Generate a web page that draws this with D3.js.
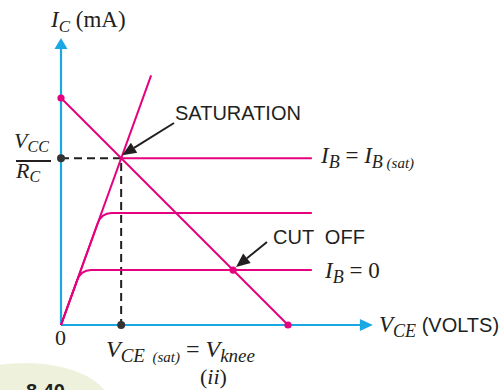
<!DOCTYPE html>
<html>
<head>
<meta charset="utf-8">
<script src="https://cdn.jsdelivr.net/npm/d3@7"></script>
<style>
body{margin:0;background:#fff}
svg{display:block}
.serif{font-family:"Liberation Serif","Times New Roman",serif}
.sans{font-family:"Liberation Sans",Arial,sans-serif}
</style>
</head>
<body>
<div id="chart"></div>
<script>
// values in chart units (VCE in volts, IC in mA), VCC = 10, VCC/RC = 10
const loadLine = [[0, 10], [10, 0]];
const satLine = [[0, 0], [3.97, 11]];
const satPoint = [2.65, 7.35];
const ibLevels = [2.42, 4.93];      // lower curves: IB = 0, middle
const curveEnd = 11.05;
const cutOff = [7.58, 2.42];
const axisEnd = {x: 13.74, y: 12.64};

const opt = {width: 500, height: 390}
const magenta = "#e5007d", blue = "#1aa8e4", ink = "#231f20";

const x = d3.scaleLinear().domain([0, 10]).range([61, 288]);
const y = d3.scaleLinear().domain([0, 10]).range([325, 98]);

const svg = d3.select("#chart").append("svg")
  .attr("width", opt.width)
  .attr("height", opt.height);

// figure-number blob bottom left
svg.append("ellipse")
  .attr("cx", 25).attr("cy", 405).attr("rx", 85).attr("ry", 42)
  .attr("fill", "#eef2dc");
svg.append("text").attr("class", "sans")
  .attr("x", 26).attr("y", 398)
  .attr("font-size", 20).attr("font-weight", "bold").attr("fill", ink)
  .text("8.40");

// axes
svg.append("line")
  .attr("x1", x(0)).attr("y1", y(0)).attr("x2", x(axisEnd.x) - 8).attr("y2", y(0))
  .attr("stroke", blue).attr("stroke-width", 2.2);
svg.append("line")
  .attr("x1", x(0)).attr("y1", y(0)).attr("x2", x(0)).attr("y2", y(axisEnd.y) + 8)
  .attr("stroke", blue).attr("stroke-width", 2.2);
svg.append("path")
  .attr("d", () => {
    const tx = x(axisEnd.x), ty = y(0);
    return `M${tx},${ty}L${tx - 13},${ty - 6}L${tx - 13},${ty + 6}Z`;
  })
  .attr("fill", blue);
svg.append("path")
  .attr("d", () => {
    const tx = x(0), ty = y(axisEnd.y);
    return `M${tx},${ty}L${tx - 6.5},${ty + 11}L${tx + 6.5},${ty + 11}Z`;
  })
  .attr("fill", blue);

// dashed guides to the saturation point
svg.append("path")
  .attr("d", `M${x(0)},${y(satPoint[1])}H${x(satPoint[0])}V${y(0)}`)
  .attr("fill", "none").attr("stroke", ink).attr("stroke-width", 2)
  .attr("stroke-dasharray", "8,5");

const line = d3.line().x(d => x(d[0])).y(d => y(d[1]));

// saturation line
svg.append("path").datum(satLine)
  .attr("d", line)
  .attr("fill", "none").attr("stroke", magenta).attr("stroke-width", 2);

// IB(sat) horizontal
svg.append("path").datum([satPoint, [curveEnd, satPoint[1]]])
  .attr("d", line)
  .attr("fill", "none").attr("stroke", magenta).attr("stroke-width", 2);

// lower curves: rise along the saturation line, round the knee, go flat
const slope = satLine[1][1] / satLine[1][0];
svg.selectAll("path.ib")
  .data(ibLevels)
  .enter()
  .append("path")
  .attr("class", "ib")
  .attr("d", (lv) => {
    const vk = lv / slope;
    const p = d3.path();
    p.moveTo(x(0), y(0));
    p.lineTo(x(vk - 0.17), y(lv - 0.47));
    p.quadraticCurveTo(x(vk), y(lv), x(vk + 0.45), y(lv));
    p.lineTo(x(curveEnd), y(lv));
    return p.toString();
  })
  .attr("fill", "none").attr("stroke", magenta).attr("stroke-width", 2);

// load line
svg.append("path").datum(loadLine)
  .attr("d", line)
  .attr("fill", "none").attr("stroke", magenta).attr("stroke-width", 2);

svg.selectAll("circle.end")
  .data(loadLine.concat([cutOff]))
  .enter()
  .append("circle")
  .attr("class", "end")
  .attr("cx", d => x(d[0])).attr("cy", d => y(d[1]))
  .attr("r", 3.6).attr("fill", magenta);

svg.selectAll("circle.guide")
  .data([[0, satPoint[1]], [satPoint[0], 0]])
  .enter()
  .append("circle")
  .attr("class", "guide")
  .attr("cx", d => x(d[0])).attr("cy", d => y(d[1]))
  .attr("r", 4).attr("fill", "#333");

// pointer arrows
function pointer(x1, y1, x2, y2) {
  const a = Math.atan2(y2 - y1, x2 - x1), L = 14, W = 6;
  const bx = x2 - L * Math.cos(a), by = y2 - L * Math.sin(a);
  svg.append("line").attr("x1", x1).attr("y1", y1).attr("x2", bx).attr("y2", by)
    .attr("stroke", ink).attr("stroke-width", 2);
  svg.append("path")
    .attr("d", `M${x2},${y2}L${bx + W * Math.sin(a)},${by - W * Math.cos(a)}L${bx - W * Math.sin(a)},${by + W * Math.cos(a)}Z`)
    .attr("fill", ink);
}
pointer(174, 123, x(satPoint[0]) + 1, y(satPoint[1]) - 3);
pointer(267, 242, x(cutOff[0]) + 3, y(cutOff[1]) - 3);

// labels
function label(cls, px, py, parts, size) {
  const t = svg.append("text").attr("class", cls)
    .attr("x", px).attr("y", py).attr("font-size", size).attr("fill", ink)
    .attr("xml:space", "preserve").style("white-space", "pre");
  parts.forEach(p => {
    const s = t.append("tspan").text(p.t);
    if (p.i) s.attr("font-style", "italic");
    if (p.s) s.attr("font-size", p.s);
    if (p.dy) s.attr("dy", p.dy);
    if (p.f) s.attr("class", p.f);
  });
  return t;
}

label("serif", 51, 27, [
  {t: "I", i: 1}, {t: "C", i: 1, s: 17, dy: 5}, {t: " (mA)", dy: -5}
], 23);

label("serif", 14, 148, [{t: "V", i: 1}, {t: "CC", i: 1, s: 16, dy: 4}], 22);
svg.append("line").attr("x1", 16).attr("x2", 51).attr("y1", 161).attr("y2", 161)
  .attr("stroke", ink).attr("stroke-width", 2);
label("serif", 16, 178, [{t: "R", i: 1}, {t: "C", i: 1, s: 16, dy: 4}], 22);

label("sans", 175, 120, [{t: "SATURATION"}], 20);
label("sans", 273, 244, [{t: "CUT  OFF"}], 20);

label("serif", 321, 163, [
  {t: "I", i: 1}, {t: "B", i: 1, s: 18, dy: 5}, {t: " = ", dy: -5},
  {t: "I", i: 1}, {t: "B", i: 1, s: 18, dy: 5}, {t: " (sat)", i: 1, s: 15}
], 23);

label("serif", 325, 278, [
  {t: "I", i: 1}, {t: "B", i: 1, s: 18, dy: 5}, {t: " = 0", dy: -5}
], 23);

label("serif", 379, 332, [
  {t: "V", i: 1}, {t: "CE", i: 1, s: 18, dy: 5}, {t: " (VOLTS)", dy: -5, s: 20, f: "sans"}
], 23);

label("serif", 55, 345, [{t: "0"}], 22);

label("serif", 106, 357, [
  {t: "V", i: 1}, {t: "CE", i: 1, s: 19, dy: 5}, {t: "  (sat)", i: 1, s: 15},
  {t: " = ", dy: -5}, {t: "V", i: 1}, {t: "knee", i: 1, s: 19, dy: 5}
], 24);

label("serif", 200, 384, [{t: "("}, {t: "ii", i: 1}, {t: ")"}], 22);
</script>
</body>
</html>
